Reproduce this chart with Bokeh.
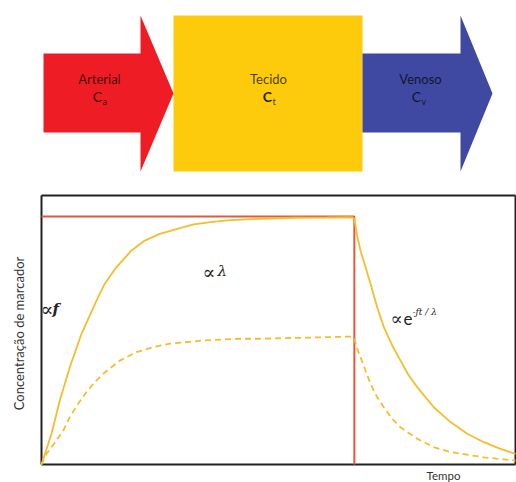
import math
from bokeh.plotting import figure
from bokeh.models import Range1d
from bokeh.core.properties import value
from bokeh.embed import file_html
from bokeh.resources import INLINE

# ---------------- data ----------------
# flow diagram
compartments = ["Arterial", "Tecido", "Venoso"]
comp_symbol = ["C", "C", "C"]
comp_sub = ["a", "t", "v"]
comp_colors = ["#EE1D25", "#FDCA0C", "#3F49A1"]

# chart: time (arbitrary units) vs tracer concentration (relative to arterial plateau)
arterial_t = [0.0, 6.6, 6.6]
arterial_c = [1.0, 1.0, 0.0]

tissue_t = [0.0, 0.211, 0.386, 0.597, 0.844, 1.160, 1.335, 1.582, 1.899, 2.179, 2.496, 2.863,
            3.213, 3.565, 3.918, 4.620, 5.316, 6.027, 6.555,
            6.600, 6.660, 6.730, 6.835, 6.941, 7.082, 7.222, 7.399, 7.574, 7.749, 7.926,
            8.276, 8.629, 8.981, 9.331, 9.684, 10.0]
tissue_c = [0.0, 0.124, 0.258, 0.392, 0.527, 0.661, 0.729, 0.796, 0.863, 0.903, 0.930, 0.950,
            0.968, 0.977, 0.984, 0.991, 0.995, 0.996, 0.997,
            0.990, 0.923, 0.863, 0.796, 0.729, 0.634, 0.554, 0.480, 0.419, 0.359, 0.312,
            0.231, 0.171, 0.124, 0.090, 0.063, 0.043]

dashed_t = [0.0, 0.105, 0.316, 0.458, 0.597, 0.774, 0.949, 1.124, 1.302, 1.652, 2.004, 2.357,
            2.707, 3.411, 4.114, 4.620, 6.555,
            6.600, 6.660, 6.730, 6.835, 6.941, 7.082, 7.222, 7.399, 7.574, 7.926, 8.276,
            8.629, 9.331, 10.0]
dashed_c = [0.0, 0.043, 0.097, 0.137, 0.191, 0.245, 0.292, 0.332, 0.366, 0.419, 0.453, 0.473,
            0.487, 0.500, 0.507, 0.507, 0.516,
            0.507, 0.467, 0.433, 0.379, 0.325, 0.271, 0.231, 0.184, 0.150, 0.104, 0.070,
            0.050, 0.029, 0.016]

t_max = 10.0
c_frame_top = 1.085

# ---------------- layout (page pixels) ----------------
W, H = 516, 482
PX0, PY0 = 0, 0
T0_PX, T_UNIT_PX = 41, 47.4  # chart time axis origin / scale
C0_PX, C_UNIT_PX = 464, 248  # chart concentration origin / scale

p = figure(width=W, height=H, output_backend="svg", toolbar_location=None,
           x_axis_type=None, y_axis_type=None, min_border=0,
           x_range=Range1d(PX0, PX0 + W), y_range=Range1d(PY0 + H, PY0),
           background_fill_color="white", border_fill_color="white")
p.outline_line_color = None
p.grid.visible = False

p.extra_x_ranges = {"t": Range1d((PX0 - T0_PX) / T_UNIT_PX, (PX0 + W - T0_PX) / T_UNIT_PX)}
p.extra_y_ranges = {"c": Range1d((C0_PX - (PY0 + H)) / C_UNIT_PX, (C0_PX - PY0) / C_UNIT_PX)}

# ---------------- flow diagram ----------------
body_l = [43, 173, 362]
body_r = [140, 362, 460]
tip_x = [173, None, 492]
body_top, body_bot = 53, 132
box_top, box_bot = 15, 171

xs, ys = [], []
for i in range(3):
    if tip_x[i] is None:
        xs.append([body_l[i], body_r[i], body_r[i], body_l[i]])
        ys.append([box_top, box_top, box_bot, box_bot])
    else:
        mid = (box_top + box_bot) / 2
        xs.append([body_l[i], body_r[i], body_r[i], tip_x[i], body_r[i], body_r[i], body_l[i]])
        ys.append([body_top, body_top, box_top, mid, box_bot, body_bot, body_bot])
p.patches(xs, ys, fill_color=comp_colors, line_color=None)

label_x = [99, 268, 420]
p.text(x=label_x, y=[78, 78, 78], text=compartments, text_font=value("Lato"),
       text_font_size="13px", text_align="center", text_baseline="middle",
       text_color="black", text_alpha=0.72)
sym_x = [97, 267, 416]
p.text(x=[sym_x[0], sym_x[2]], y=[96, 96], text=[comp_symbol[0], comp_symbol[2]],
       text_font=value("Lato"), text_font_size="14px", text_align="center",
       text_baseline="middle", text_color="black", text_alpha=0.75)
p.text(x=[sym_x[1]], y=[96], text=[comp_symbol[1]], text_font=value("Lato"),
       text_font_size="14px", text_align="center", text_baseline="middle",
       text_color="black", text_alpha=0.85, text_font_style="bold")
p.text(x=[s + 5 for s in sym_x], y=[101, 101, 101], text=comp_sub, text_font=value("Lato"),
       text_font_size="9px", text_align="left", text_baseline="middle",
       text_color="black", text_alpha=0.75)

# ---------------- chart ----------------
kw = dict(x_range_name="t", y_range_name="c")
# frame
p.line([0, 0], [0, c_frame_top], line_color="#222222", line_width=2, **kw)
p.line([0, t_max], [0, 0], line_color="#222222", line_width=2, **kw)
p.line([0, t_max], [c_frame_top, c_frame_top], line_color="#222222", line_width=2, **kw)
p.line([t_max, t_max], [0, c_frame_top], line_color="#222222", line_width=2, **kw)

p.line(arterial_t, arterial_c, line_color="#E8573C", line_width=2, **kw)
p.line(tissue_t, tissue_c, line_color="#F3BD2C", line_width=1.8, **kw)
p.line(dashed_t, dashed_c, line_color="#F3BD2C", line_width=1.8, line_dash="6 4", **kw)

# annotations in chart
p.text(x=[40], y=[308], text=["∝"], text_font=value("DejaVu Serif"),
       text_font_size="19px", text_align="left",
       text_baseline="middle", text_color="#222222")
p.text(x=[52], y=[308], text=["f"], text_font=value("DejaVu Serif"),
       text_font_size="15px", text_font_style="bold italic", text_align="left",
       text_baseline="middle", text_color="#222222")
p.text(x=[202], y=[271], text=["∝"], text_font=value("DejaVu Serif"),
       text_font_size="19px", text_align="left",
       text_baseline="middle", text_color="#222222")
p.text(x=[217], y=[270], text=["λ"], text_font=value("DejaVu Serif"),
       text_font_size="15px", text_font_style="italic", text_align="left",
       text_baseline="middle", text_color="#222222")
p.text(x=[390], y=[318], text=["∝"], text_font=value("DejaVu Serif"),
       text_font_size="18px", text_align="left", text_baseline="middle", text_color="#222222")
p.text(x=[403], y=[318], text=["e"], text_font=value("Lato"),
       text_font_size="17px", text_align="left", text_baseline="middle", text_color="#222222")
p.text(x=[412], y=[311], text=["-ƒt / λ"], text_font=value("DejaVu Serif"),
       text_font_size="9px", text_font_style="italic", text_align="left",
       text_baseline="middle", text_color="#222222")

# axis titles
p.text(x=[18], y=[333], text=["Concentração de marcador"], text_font=value("Lato"),
       text_font_size="13px", text_align="center", text_baseline="middle",
       angle=math.pi / 2, text_color="#333333")
p.text(x=[443], y=[468], text=["Tempo"], text_font=value("Lato"),
       text_font_size="11.5px", text_align="center", text_baseline="top",
       text_color="#333333")

open("out.html", "w").write(file_html(p, INLINE))
